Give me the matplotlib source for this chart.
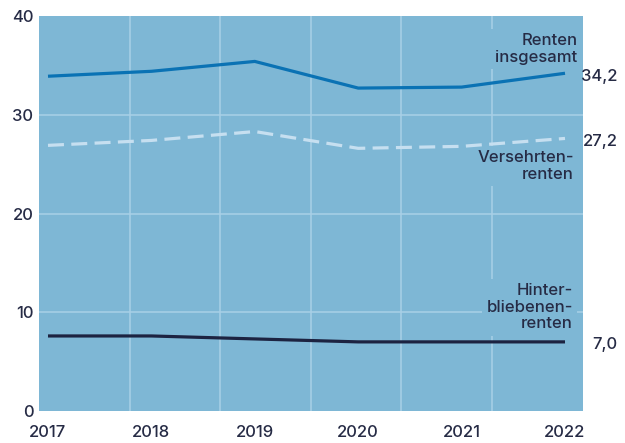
import matplotlib.pyplot as plt
from matplotlib.transforms import blended_transform_factory

plt.rcParams['font.family'] = ['Inter', 'DejaVu Sans']
plt.rcParams['font.weight'] = 'medium'

years = [2017, 2018, 2019, 2020, 2021, 2022]
renten_gesamt = [33.9, 34.4, 35.4, 32.7, 32.8, 34.2]
versehrten = [26.9, 27.4, 28.3, 26.6, 26.8, 27.6]
hinterbliebenen = [7.6, 7.6, 7.3, 7.0, 7.0, 7.0]
end_labels = ["34,2", "27,2", "7,0"]
y_ticks = [0, 10, 20, 30, 40]

bg = "#7eb7d5"
txt = "#262b45"
grid_c = "#a9d0e6"

fig = plt.figure(figsize=(6.25, 4.43), dpi=100)
ax = fig.add_axes([0.0624, 0.0722, 0.8699, 0.8917])
ax.set_facecolor(bg)

xmin, xmax = 2016.913, 2022.171
ax.set_xlim(xmin, xmax)
ax.set_ylim(0, 40)

# grid: horizontale Linien an den Ticks, vertikale in Sechsteln
for v in y_ticks[1:-1]:
    ax.axhline(v, color=grid_c, lw=1.1, zorder=1)
for k in range(1, 6):
    ax.axvline(xmin + k * (xmax - xmin) / 6, color=grid_c, lw=1.1, zorder=1)

ax.plot(years, renten_gesamt, color="#0a72b4", lw=2.3, zorder=4, solid_capstyle='butt')
ax.plot(years, versehrten, color="#c6dff0", lw=2.3, zorder=4, dashes=(5, 2.3))
ax.plot(years, hinterbliebenen, color="#1c2341", lw=2.3, zorder=4, solid_capstyle='butt')

for s in ax.spines.values():
    s.set_visible(False)
ax.tick_params(length=0, labelsize=12, colors=txt)
ax.tick_params(axis='x', pad=10)
ax.tick_params(axis='y', pad=4)
ax.set_xticks(years)
ax.set_xticklabels([str(y) for y in years])
ax.set_yticks(y_ticks)

box = dict(facecolor=bg, edgecolor='none', pad=3)
lab_kw = dict(transform=ax.transAxes, ha='right', va='center', fontsize=12,
              color=txt, linespacing=1.15, multialignment='right', zorder=3, bbox=box)
ax.text(0.990, 0.916, "Renten\ninsgesamt", **lab_kw)
ax.text(0.984, 0.620, "Versehrten-\nrenten", **lab_kw)
ax.text(0.982, 0.263, "Hinter-\nbliebenen-\nrenten", **lab_kw)

tr = blended_transform_factory(fig.transFigure, ax.transData)
for series, lab in zip([renten_gesamt, versehrten, hinterbliebenen], end_labels):
    ax.annotate(lab, xy=(0.988, series[-1]), xycoords=tr, xytext=(0, -2),
                textcoords='offset points', ha='right', va='center',
                fontsize=12, color=txt, annotation_clip=False)

fig.savefig("out.png", dpi=100)
